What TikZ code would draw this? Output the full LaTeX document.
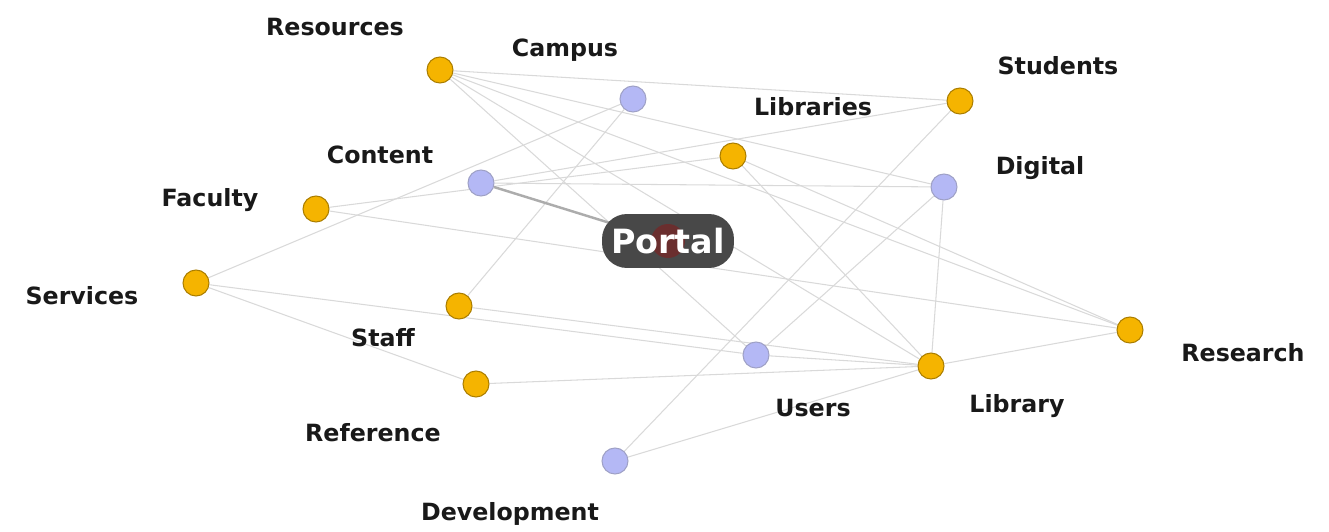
\documentclass[tikz,border=0pt]{standalone}
\usepackage{fontspec}
\setmainfont{DejaVu Sans}
\usetikzlibrary{backgrounds}

\definecolor{termorange}{RGB}{245,180,0}
\definecolor{termblue}{RGB}{180,184,245}
\definecolor{portalgray}{RGB}{72,72,72}
\definecolor{portalred}{RGB}{130,30,30}

\begin{document}
\begin{tikzpicture}[x=0.02cm, y=-0.02cm,
  term/.style={circle, minimum size=0.52cm, inner sep=0pt, line width=0.6pt},
  hot/.style={term, fill=termorange, draw=termorange!70!black},
  cold/.style={term, fill=termblue, draw=termblue!60!gray},
  word/.style={font=\bfseries\fontsize{13.5}{16}\selectfont, text=black!90},
  link/.style={draw=gray!30, line width=0.6pt},
  mainlink/.style={draw=gray!65, line width=1.4pt}]
\useasboundingbox (0,0) rectangle (1329,531);

% Terms
\node[hot]  (res) at (440,70)  {};
\node[cold] (cam) at (633,99)  {};
\node[hot]  (stu) at (960,101) {};
\node[hot]  (lbs) at (733,156) {};
\node[cold] (con) at (481,183) {};
\node[cold] (dig) at (944,187) {};
\node[hot]  (fac) at (316,209) {};
\node[hot]  (ser) at (196,283) {};
\node[hot]  (sta) at (459,306) {};
\node[hot]  (rsh) at (1130,330) {};
\node[cold] (usr) at (756,355) {};
\node[hot]  (lib) at (931,366) {};
\node[hot]  (ref) at (476,384) {};
\node[cold] (dev) at (615,461) {};

% Labels
\node[word] (lres) at (335,27)  {Resources};
\node[word] (lcam) at (565,50)  {Campus};
\node[word] (lstu) at (1058,66) {Students};
\node[word] (llbs) at (813,107) {Libraries};
\node[word] (lcon) at (380,155) {Content};
\node[word] (ldig) at (1040,168) {Digital};
\node[word] (lfac) at (210,200) {Faculty};
\node[word] (lser) at (82,296)  {Services};
\node[word] (lsta) at (383,338) {Staff};
\node[word] (lrsh) at (1243,353) {Research};
\node[word] (lusr) at (813,408) {Users};
\node[word] (llib) at (1017,406) {Library};
\node[word] (lref) at (373,433) {Reference};
\node[word] (ldev) at (510,514) {Development};

% Selected term
\node[rounded corners=0.5cm, fill=portalgray, minimum width=2.64cm, minimum height=1.08cm] (por) at (668,241) {};
\fill[portalred, opacity=0.6] (por.center) circle (0.34cm);
\node[text=white, font=\bfseries\fontsize{19}{22}\selectfont] (lpor) at (por.center) {Portal};

% Links
\begin{scope}[on background layer]
\draw[link] (res) -- (stu);
\draw[link] (res) -- (dig);
\draw[link] (res) -- (rsh);
\draw[link] (res) -- (lib);
\draw[link] (res) -- (usr);
\draw[link] (cam) -- (ser);
\draw[link] (cam) -- (sta);
\draw[link] (con) -- (dig);
\draw[link] (con) -- (stu);
\draw[link] (fac) -- (lbs);
\draw[link] (fac) -- (rsh);
\draw[link] (ser) -- (usr);
\draw[link] (ser) -- (ref);
\draw[link] (sta) -- (lib);
\draw[link] (ref) -- (lib);
\draw[link] (lbs) -- (lib);
\draw[link] (lbs) -- (rsh);
\draw[link] (dig) -- (lib);
\draw[link] (usr) -- (dig);
\draw[link] (usr) -- (lib);
\draw[link] (dev) -- (stu);
\draw[link] (dev) -- (lib);
\draw[link] (lib) -- (rsh);
\draw[mainlink] (con) -- (por.center);
\end{scope}
\end{tikzpicture}
\end{document}
